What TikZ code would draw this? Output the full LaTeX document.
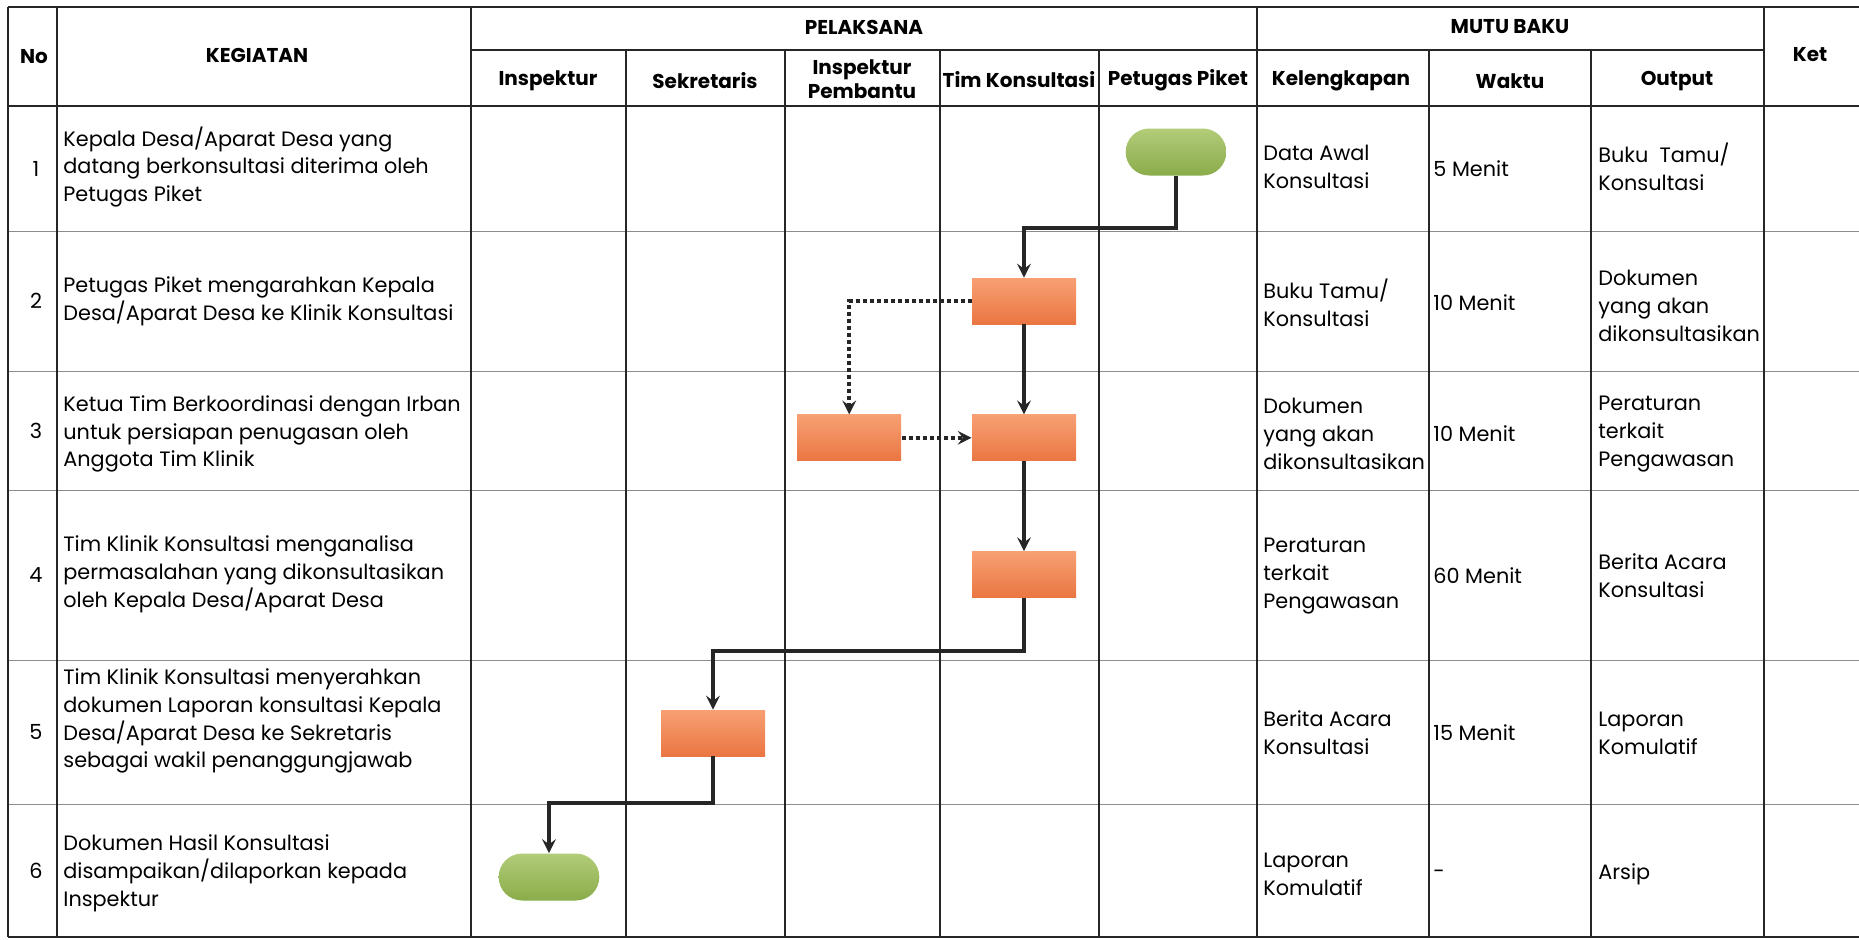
\documentclass[tikz,border=0pt]{standalone}
\usepackage{fontspec}
\setmainfont{Poppins}
\usetikzlibrary{arrows, positioning, shapes.misc}
\definecolor{oranyeatas}{RGB}{247,160,115}
\definecolor{oranyebawah}{RGB}{234,118,66}
\definecolor{hijauatas}{RGB}{178,204,120}
\definecolor{hijaubawah}{RGB}{138,172,74}

\begin{document}
\begin{tikzpicture}[x=0.5pt, y=-0.5pt, >=stealth,
    isi/.style={font=\fontsize{10.4}{13.9}\selectfont, align=left, anchor=west, inner sep=0pt},
    judul/.style={font=\bfseries\fontsize{10}{12}\selectfont, align=center, inner sep=0pt},
    kotak/.style={rectangle, minimum width=52pt, minimum height=23pt, top color=oranyeatas, bottom color=oranyebawah, draw=none},
    ujung/.style={rounded rectangle, minimum width=57pt, minimum height=23.5pt, top color=hijauatas, bottom color=hijaubawah, draw=none},
    panah/.style={->, line width=2pt, black!85},
    panahtitik/.style={->, line width=2pt, black!85, dash pattern=on 2pt off 1.5pt},
    garis/.style={line width=1pt, black!85},
    garistipis/.style={line width=0.5pt, black!45}]
  \useasboundingbox (0,0) rectangle (1859,939);

  % garis tabel
  \draw [garis, line width=1.3pt] (8,7) -- (1859,7);
  \draw [garis] (471,50) -- (1764,50);
  \draw [garis, line width=1.3pt] (8,106) -- (1859,106);
  \foreach \y in {231,371,490,660,804}
    \draw [garistipis] (8,\y) -- (1859,\y);
  \draw [garis, line width=1.3pt] (8,937) -- (1859,937);
  \foreach \x in {8,57,471,1257,1764}
    \draw [garis] (\x,7) -- (\x,937);
  \foreach \x in {626,785,940,1099,1429,1591}
    \draw [garis] (\x,50) -- (\x,937);

  % kepala tabel
  \node [judul] (hno) at (34,57) {No};
  \node [judul] (hkeg) at (257,55) {KEGIATAN};
  \node [judul] (hpel) at (864,27) {PELAKSANA};
  \node [judul] (hmutu) at (1510,27) {MUTU BAKU};
  \node [judul] (hket) at (1810,55) {Ket};
  \node [judul] (hins) at (548,81) {Inspektur};
  \node [judul] (hsek) at (705,81) {Sekretaris};
  \node [judul] (hip) at (862,79) {Inspektur\\Pembantu};
  \node [judul] (htk) at (1019,80) {Tim Konsultasi};
  \node [judul] (hpp) at (1178,80) {Petugas Piket};
  \node [judul] (hkel) at (1341,81) {Kelengkapan};
  \node [judul] (hwak) at (1510,81) {Waktu};
  \node [judul] (hout) at (1677,81) {Output};

  % nomor
  \node [isi, anchor=center] (n1) at (36,169) {1};
  \node [isi, anchor=center] (n2) at (36,301) {2};
  \node [isi, anchor=center] (n3) at (36,431) {3};
  \node [isi, anchor=center] (n4) at (36,575) {4};
  \node [isi, anchor=center] (n5) at (36,732) {5};
  \node [isi, anchor=center] (n6) at (36,871) {6};

  % kegiatan
  \node [isi] (k1) at (63,167) {Kepala Desa/Aparat Desa yang\\datang berkonsultasi diterima oleh\\Petugas Piket};
  \node [isi] (k2) at (63,301) {Petugas Piket mengarahkan Kepala\\Desa/Aparat Desa ke Klinik Konsultasi};
  \node [isi] (k3) at (63,434) {Ketua Tim Berkoordinasi dengan Irban\\untuk persiapan penugasan oleh\\Anggota Tim Klinik};
  \node [isi] (k4) at (63,574) {Tim Klinik Konsultasi menganalisa\\permasalahan yang dikonsultasikan\\oleh Kepala Desa/Aparat Desa};
  \node [isi] (k5) at (63,721) {Tim Klinik Konsultasi menyerahkan\\dokumen Laporan konsultasi Kepala\\Desa/Aparat Desa ke Sekretaris\\sebagai wakil penanggungjawab};
  \node [isi] (k6) at (63,873) {Dokumen Hasil Konsultasi\\disampaikan/dilaporkan kepada\\Inspektur};

  % kelengkapan
  \node [isi] (l1) at (1263,167) {Data Awal\\Konsultasi};
  \node [isi] (l2) at (1263,303) {Buku Tamu/\\Konsultasi};
  \node [isi] (l3) at (1263,434) {Dokumen\\yang akan\\dikonsultasikan};
  \node [isi] (l4) at (1263,576) {Peraturan\\terkait\\Pengawasan};
  \node [isi] (l5) at (1263,733) {Berita Acara\\Konsultasi};
  \node [isi] (l6) at (1263,874) {Laporan\\Komulatif};

  % waktu
  \node [isi] (w1) at (1433,169) {5 Menit};
  \node [isi] (w2) at (1433,303) {10 Menit};
  \node [isi] (w3) at (1433,434) {10 Menit};
  \node [isi] (w4) at (1433,576) {60 Menit};
  \node [isi] (w5) at (1433,733) {15 Menit};
  \node [isi] (w6) at (1433,874) {-};

  % output
  \node [isi] (o1) at (1598,167) {Buku\ \ Tamu/\\Konsultasi};
  \node [isi] (o2) at (1598,306) {Dokumen\\yang akan\\dikonsultasikan};
  \node [isi] (o3) at (1598,434) {Peraturan\\terkait\\Pengawasan};
  \node [isi] (o4) at (1598,576) {Berita Acara\\Konsultasi};
  \node [isi] (o5) at (1598,733) {Laporan\\Komulatif};
  \node [isi] (o6) at (1598,874) {Arsip};

  % alur
  \node [ujung] (mulai) at (1176,152) {};
  \node [kotak] (tk2) at (1024,301) {};
  \node [kotak, below=45pt of tk2] (tk3) {};
  \node [kotak, left=35pt of tk3] (ip3) {};
  \node [kotak, below=45pt of tk3] (tk4) {};
  \node [kotak] (sek5) at (713,733) {};
  \node [ujung] (selesai) at (549,877) {};

  \draw [panah] (mulai.south) -- ++(0,52) -| (tk2.north);
  \draw [panah] (tk2) -- (tk3);
  \draw [panah] (tk3) -- (tk4);
  \draw [panahtitik] (tk2.west) -| (ip3.north);
  \draw [panahtitik] (ip3) -- (tk3);
  \draw [panah] (tk4.south) -- ++(0,53) -| (sek5.north);
  \draw [panah] (sek5.south) -- ++(0,47) -| (selesai.north);
\end{tikzpicture}
\end{document}
